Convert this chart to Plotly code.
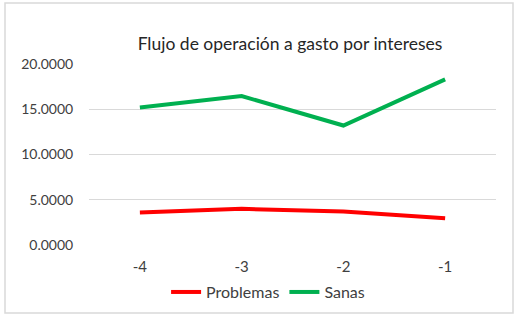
import plotly.graph_objects as go

categories = ["-4", "-3", "-2", "-1"]
problemas = [3.6, 4.0, 3.7, 2.95]
sanas = [15.2, 16.45, 13.2, 18.3]
y_ticks = [0, 5, 10, 15, 20]
y_tick_labels = ["0.0000", "5.0000", "10.0000", "15.0000", "20.0000"]

FONT = "Lato, Carlito, Calibri, sans-serif"

fig = go.Figure()
fig.add_trace(go.Scatter(x=categories, y=problemas, mode="lines", name="Problemas",
                         line=dict(color="#ff0000", width=4)))
fig.add_trace(go.Scatter(x=categories, y=sanas, mode="lines", name="Sanas",
                         line=dict(color="#00b050", width=4)))

fig.update_layout(
    width=518, height=316,
    margin=dict(l=89, r=22, t=64, b=71, autoexpand=False),
    paper_bgcolor="white", plot_bgcolor="white",
    font=dict(family=FONT, size=14, color="#404040"),
    title=dict(text="Flujo de operación a gasto por intereses",
               x=290/518, xref="container", xanchor="center",
               y=1-44/316, yref="container", yanchor="middle",
               font=dict(family=FONT, size=17.5, color="#262626")),
    showlegend=True,
    legend=dict(orientation="h", x=0.44, xanchor="center", y=-0.26, yanchor="middle",
                font=dict(family=FONT, size=16, color="#404040"),
                itemwidth=30, tracegroupgap=0, bgcolor="rgba(0,0,0,0)"),
    xaxis=dict(type="category", range=[-0.5, 3.5], showgrid=False, zeroline=False,
               showline=False, ticks="outside", ticklen=8, tickcolor="rgba(0,0,0,0)",
               tickfont=dict(family=FONT, size=15, color="#404040"), automargin=False),
    yaxis=dict(range=[0, 20], tickvals=y_ticks, ticktext=y_tick_labels,
               showgrid=True, gridcolor="#d9d9d9", gridwidth=1, zeroline=False,
               showline=False, ticks="outside", ticklen=12, tickcolor="rgba(0,0,0,0)",
               tickfont=dict(family=FONT, size=14, color="#404040"), automargin=False),
)
# outer chart border
fig.add_shape(type="rect", xref="paper", yref="paper",
              x0=-84/407, x1=(513-89)/407, y0=(245-313)/181, y1=(245-3)/181,
              line=dict(color="#d9d9d9", width=1.5), layer="below")

fig.write_html("out.html", config={"displayModeBar": False},
               post_script="document.body.style.margin='0';document.body.style.padding='0';")
